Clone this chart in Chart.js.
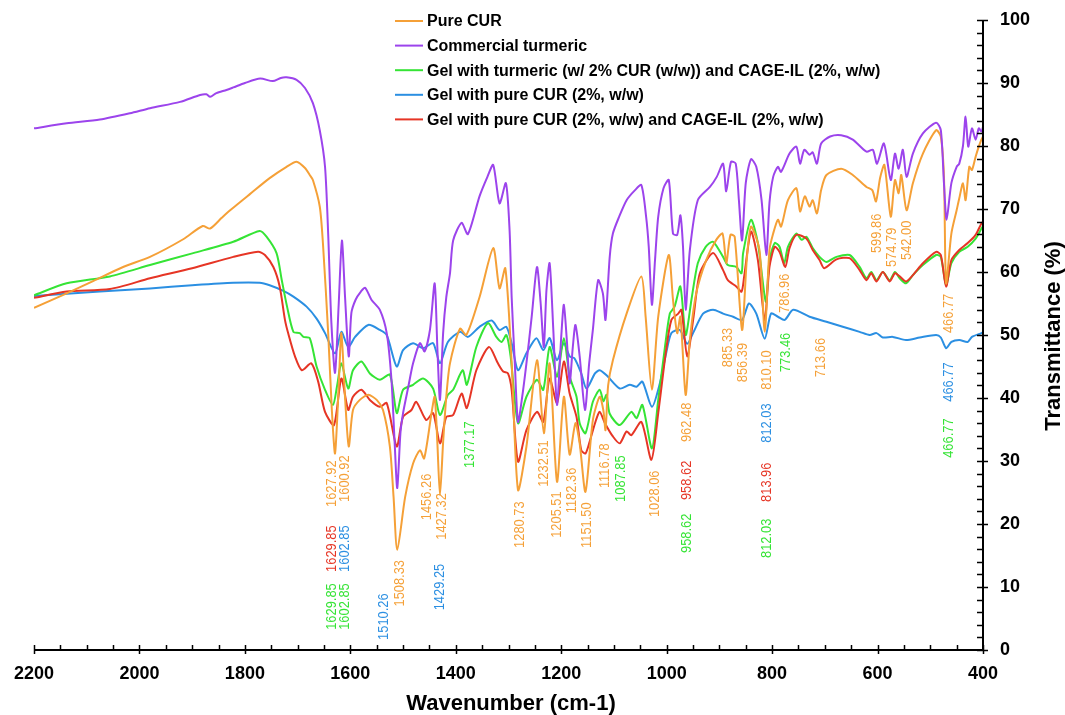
<!DOCTYPE html>
<html>
<head>
<meta charset="utf-8">
<script src="https://cdn.jsdelivr.net/npm/chart.js@4.4.0/dist/chart.umd.min.js"></script>
<style>
  html, body { margin: 0; padding: 0; background: #fff; }
  canvas { display: block; }
</style>
</head>
<body>
<canvas id="ftir" width="1065" height="715"></canvas>
<script>
// Pure CUR
const pureCurWn = [2200, 2138, 2087, 2031, 1980, 1917, 1880, 1866, 1844, 1828, 1790, 1753, 1721, 1702, 1686, 1677, 1671, 1658, 1652, 1642, 1635, 1629, 1622, 1617, 1610, 1603, 1595, 1582, 1566, 1550, 1538, 1525, 1518, 1511, 1496, 1481, 1468, 1460, 1446, 1440, 1435, 1430, 1424, 1418, 1411, 1392, 1380, 1355, 1329, 1317, 1306, 1294, 1282, 1266, 1246, 1233, 1222, 1208, 1195, 1184, 1173, 1165, 1154, 1140, 1127, 1120, 1116, 1111, 1102, 1076, 1048, 1040, 1028, 1016, 996, 988, 980, 974, 964, 956, 944, 925, 906, 894, 887, 879, 871, 857, 848, 840, 824, 814, 805, 798, 789, 783, 770, 754, 747, 738, 729, 723, 715, 707, 697, 669, 647, 621, 610, 603, 595, 587, 575, 567, 560, 555, 545, 533, 514, 489, 480, 474, 470, 460, 450, 445, 438, 433, 426, 421, 414, 408, 403, 400];
const pureCurT = [54.3, 56.6, 58.6, 60.8, 62.4, 65.2, 67.3, 66.9, 68.6, 69.8, 72.4, 74.9, 76.7, 77.5, 76.5, 75.4, 74.6, 70.4, 64.6, 50.3, 38, 31.2, 42, 50.3, 40, 32.3, 38.1, 39.7, 40.5, 39.7, 38.1, 32.3, 24.3, 15.9, 24.3, 29.6, 31.7, 30.4, 37.6, 40.2, 33, 24.6, 33, 40.2, 45.5, 51, 50, 56, 63.8, 57.4, 60.6, 45.5, 25.4, 32.3, 46, 34.4, 45.5, 26.7, 40.2, 31, 36, 32.8, 25.1, 36.5, 40.2, 38, 34.9, 42, 46, 53.4, 59.3, 53, 41.3, 52.9, 62.7, 55.6, 50.3, 52.9, 40.5, 49.2, 56.6, 61.9, 65.1, 66.1, 61.4, 65.9, 65.6, 50.8, 62, 67.2, 63.5, 50.5, 63.5, 66.1, 68.3, 67.2, 71.4, 73.3, 69.6, 72, 70.4, 71.4, 69.3, 73, 75.4, 76.4, 75.4, 73.5, 73, 71.2, 75, 77, 68.8, 74.6, 72.5, 75.4, 69.8, 74.1, 78.8, 82.5, 81.5, 75, 58.2, 66.1, 69.8, 71.7, 74.1, 71.4, 76.7, 76.2, 78.3, 79.9, 81, 81.5];

// Commercial turmeric
const turmericWn = [2200, 2138, 2075, 2018, 1980, 1923, 1885, 1873, 1866, 1854, 1835, 1822, 1800, 1771, 1747, 1732, 1721, 1702, 1686, 1671, 1658, 1648, 1642, 1636, 1629, 1622, 1616, 1610, 1603, 1598, 1590, 1580, 1572, 1560, 1544, 1531, 1522, 1516, 1511, 1505, 1500, 1490, 1481, 1468, 1459, 1449, 1440, 1435, 1430, 1424, 1418, 1411, 1405, 1389, 1377, 1355, 1340, 1329, 1317, 1305, 1298, 1294, 1288, 1282, 1274, 1266, 1256, 1246, 1239, 1233, 1228, 1222, 1215, 1208, 1200, 1195, 1189, 1184, 1178, 1173, 1165, 1155, 1147, 1140, 1130, 1121, 1116, 1108, 1102, 1090, 1076, 1060, 1048, 1039, 1034, 1028, 1022, 1016, 1006, 996, 988, 980, 974, 969, 964, 956, 941, 918, 905, 893, 887, 878, 869, 863, 857, 850, 840, 830, 820, 811, 805, 798, 789, 783, 767, 754, 747, 739, 729, 723, 715, 707, 690, 669, 647, 621, 609, 601, 588, 575, 567, 560, 552, 545, 533, 514, 489, 480, 474, 469, 460, 450, 445, 438, 433, 428, 421, 414, 408, 403, 400];
const turmericT = [82.8, 83.6, 84.2, 85.2, 86, 87, 88.1, 88.2, 87.8, 88.4, 88.9, 89.3, 90, 90.7, 90.3, 90.8, 90.9, 90.5, 89.2, 86.8, 82.5, 76.7, 66, 52, 44, 55, 65, 56, 46.6, 53.5, 55.6, 56.9, 57.5, 55.6, 54, 50.3, 42.9, 33, 25.7, 34.4, 37.6, 41.8, 45.5, 48.7, 47.4, 50.8, 58.2, 48.1, 39.7, 50.3, 56, 59.8, 65, 67.8, 66, 72, 75.1, 77, 70.9, 74.1, 66.7, 56, 45.5, 36.2, 40.2, 45.5, 52.9, 60.8, 55, 48.1, 57.1, 61.4, 50.8, 38.9, 49.7, 54.8, 48.7, 42.3, 48.1, 51.6, 46.6, 38.1, 45.5, 50.8, 58.7, 56.6, 52.4, 62.4, 66.1, 68.8, 71.4, 73, 73.8, 68.8, 64, 54.8, 62, 68.8, 73.3, 74.6, 66.1, 65.9, 69, 64, 54, 63.5, 71.4, 73.5, 75.1, 77.2, 72.8, 77.5, 77.2, 71.4, 65, 74.1, 77.9, 76.7, 71.4, 62.7, 71, 75.1, 76.7, 75.9, 78.8, 79.9, 77.2, 79.4, 78.6, 79, 77.2, 80.4, 81.5, 81.7, 81, 79.1, 79.4, 77.2, 80.4, 74.6, 78.8, 76.4, 79.4, 75.1, 78.8, 82, 83.7, 82.5, 74, 68.3, 74.1, 76.7, 77.2, 80, 84.7, 79.9, 82.8, 81, 82.8, 82.3, 83];

// Gel with turmeric (w/ 2% CUR) and CAGE-IL
const gelTurmericWn = [2200, 2138, 2056, 1980, 1898, 1822, 1772, 1759, 1740, 1730, 1720, 1708, 1696, 1689, 1677, 1664, 1648, 1633, 1625, 1617, 1604, 1595, 1579, 1563, 1544, 1525, 1512, 1500, 1481, 1462, 1443, 1430, 1415, 1405, 1387, 1379, 1361, 1339, 1323, 1313, 1304, 1296, 1282, 1266, 1246, 1234, 1222, 1208, 1195, 1184, 1171, 1165, 1154, 1140, 1127, 1120, 1114, 1108, 1089, 1067, 1057, 1046, 1028, 1016, 1004, 994, 985, 974, 964, 953, 941, 926, 912, 893, 884, 868, 858, 855, 840, 827, 812, 805, 795, 786, 777, 770, 754, 744, 735, 723, 710, 697, 678, 653, 634, 621, 612, 602, 590, 577, 567, 558, 546, 533, 514, 489, 480, 470, 460, 445, 429, 414, 403, 400];
const gelTurmericT = [56.3, 58.2, 59.3, 61.1, 63, 64.8, 66.5, 65.6, 63, 58.7, 54.5, 50.5, 50.3, 49.7, 49.5, 45, 41.3, 38.9, 42, 45.5, 41.5, 44.4, 45.8, 43.9, 42.9, 43.7, 37.6, 41.3, 42.1, 43.1, 41.5, 37.3, 40.5, 41.3, 44.4, 42.1, 48.1, 51.9, 49.7, 48.9, 50, 46.6, 36, 40.2, 42.9, 41.3, 48.1, 43.4, 49.5, 43.4, 40.2, 36, 34.4, 39.4, 41.3, 39.5, 40.5, 37.5, 35.7, 37.8, 36.8, 38.9, 32, 39.7, 47.6, 53.4, 54.5, 57.7, 50, 55.6, 61.4, 64, 64.8, 62.4, 61.1, 60.8, 59.8, 63, 68.3, 64.6, 55.3, 61.9, 64.6, 64, 61.4, 64, 66.1, 65.1, 65.6, 63.8, 62.4, 61.6, 62.4, 62.7, 60.8, 59, 60, 58.7, 60, 58.7, 60, 59, 58.2, 59.5, 61.1, 62.7, 62.4, 57.9, 61.4, 63.2, 64, 65.3, 66.9, 67.3];

// Gel with pure CUR
const gelCurWn = [2200, 2075, 1980, 1900, 1822, 1772, 1753, 1727, 1708, 1683, 1664, 1648, 1629, 1617, 1604, 1591, 1566, 1544, 1531, 1512, 1500, 1481, 1462, 1443, 1430, 1415, 1392, 1377, 1355, 1332, 1317, 1304, 1294, 1282, 1266, 1247, 1234, 1222, 1208, 1195, 1184, 1175, 1162, 1152, 1136, 1127, 1114, 1089, 1070, 1057, 1046, 1028, 1013, 1001, 991, 975, 961, 950, 931, 912, 893, 874, 857, 844, 830, 814, 802, 789, 776, 760, 729, 697, 666, 634, 615, 602, 590, 571, 546, 520, 489, 480, 470, 460, 445, 429, 421, 403, 400];
const gelCurT = [56.2, 56.9, 57.4, 57.9, 58.3, 58.3, 57.9, 57, 56.1, 54.5, 52.6, 50.3, 47.1, 50.5, 48.1, 49.7, 51.6, 50.8, 50, 45, 47.6, 48.7, 47.9, 48.7, 45.5, 48.9, 50.5, 49.7, 51.3, 52.3, 50.8, 51.3, 48.7, 44.4, 47.1, 49.5, 47.6, 49.5, 46, 48.7, 46.6, 46.3, 43.9, 41.5, 43.9, 44.4, 43.6, 41.5, 42.1, 41.8, 42.6, 38.6, 42.3, 47.1, 50.3, 50.8, 48.6, 50.3, 53.4, 54, 53.4, 52.9, 52.4, 55, 53.4, 49.4, 53.4, 52.9, 52.4, 54, 52.9, 52.1, 51.3, 50.5, 50, 50.3, 49.6, 49.7, 49.2, 49.6, 50, 49.6, 47.9, 48.9, 49.2, 48.9, 49.7, 50.3, 50.4];

// Gel with pure CUR and CAGE-IL
const gelCurIlWn = [2200, 2138, 2056, 1980, 1900, 1822, 1775, 1762, 1746, 1734, 1724, 1718, 1705, 1692, 1674, 1661, 1648, 1631, 1617, 1604, 1595, 1579, 1563, 1544, 1531, 1512, 1500, 1484, 1475, 1456, 1443, 1430, 1418, 1405, 1389, 1379, 1361, 1337, 1320, 1310, 1301, 1294, 1282, 1266, 1246, 1234, 1222, 1208, 1195, 1184, 1171, 1162, 1154, 1146, 1134, 1127, 1117, 1102, 1089, 1076, 1067, 1048, 1029, 1016, 1001, 991, 978, 972, 961, 949, 937, 912, 893, 884, 868, 858, 853, 840, 827, 814, 805, 795, 786, 775, 767, 754, 735, 723, 710, 701, 678, 653, 634, 621, 612, 602, 590, 577, 567, 558, 546, 533, 514, 489, 480, 470, 460, 445, 429, 414, 403, 400];
const gelCurIlT = [55.9, 56.9, 57.3, 59, 60.6, 62.4, 63.2, 62.7, 60.8, 57.7, 52.4, 50.3, 46.6, 44.4, 45.5, 42.6, 37.8, 35.7, 43.1, 38.1, 40.2, 41.3, 39.7, 38.6, 39.2, 32.3, 37, 38.1, 39.4, 36.5, 37.6, 32.8, 37, 37.3, 40.7, 38.4, 44.4, 48.1, 45.5, 44.2, 43.9, 41.3, 29.9, 34.9, 37.8, 36.2, 43.1, 39.2, 45.8, 40.7, 37, 31.7, 31.2, 33.1, 36.5, 37.8, 36, 33.9, 32.8, 34.7, 34.1, 36.2, 30.2, 37.6, 47.6, 52.4, 53.4, 54, 46.6, 52.9, 59.8, 63, 60.3, 58.7, 57.7, 56.9, 59.3, 66.4, 61.9, 52.4, 60.8, 64, 63.2, 60.8, 63.8, 65.9, 65.3, 63.5, 61.9, 60.6, 62, 62.2, 60.3, 58.7, 59.8, 58.5, 60, 58.5, 59.8, 59.3, 58.5, 59.5, 61.4, 63.2, 62.7, 57.7, 61.9, 63.5, 64.6, 65.9, 67.7, 68];

const seriesLabels = [
  "Pure CUR",
  "Commercial turmeric",
  "Gel with turmeric (w/ 2% CUR (w/w)) and CAGE-IL (2%, w/w)",
  "Gel with pure CUR (2%, w/w)",
  "Gel with pure CUR (2%, w/w) and CAGE-IL (2%, w/w)"
];
const seriesColors = ["#f5a037", "#9c44ec", "#35e435", "#2b8fe2", "#e63525"];

// peak labels: text, series index, wavenumber / transmittance of the text's lower end
const peakText = ["1627.92", "1600.92", "1629.85", "1602.85", "1629.85", "1602.85", "1510.26", "1508.33", "1456.26", "1427.32", "1429.25", "1377.17", "1280.73", "1232.51", "1205.51", "1182.36", "1151.50", "1116.78", "1087.85", "1028.06", "962.48", "958.62", "958.62", "885.33", "856.39", "810.10", "812.03", "813.96", "812.03", "786.96", "773.46", "713.66", "599.86", "574.79", "542.00", "466.77", "466.77", "466.77"];
const peakSeries = [0, 0, 4, 3, 2, 2, 3, 0, 0, 0, 3, 2, 0, 0, 0, 0, 0, 0, 2, 0, 0, 4, 2, 0, 0, 0, 3, 4, 2, 0, 2, 0, 0, 0, 0, 0, 3, 2];
const peakWn = [1635, 1609.5, 1635, 1609.5, 1635, 1609.5, 1536.5, 1506, 1455, 1426.5, 1430, 1373.5, 1278.7, 1233, 1207.6, 1180, 1151.7, 1117.5, 1087, 1022.7, 962, 962, 962, 884.4, 856, 810.4, 810.4, 810.4, 810.4, 776.3, 774.4, 708, 601, 573.5, 544, 465.4, 465.4, 465.4];
const peakT = [22.7, 23.5, 12.4, 12.4, 3.2, 3.2, 1.6, 6.9, 20.6, 17.5, 6.3, 28.9, 16.2, 25.9, 17.8, 21.7, 16.2, 25.7, 23.5, 21.1, 33, 23.8, 15.4, 44.9, 42.5, 41.3, 32.9, 23.5, 14.6, 53.5, 44.1, 43.3, 63, 60.8, 61.9, 50.3, 39.4, 30.5];

const FONT = "'Liberation Sans', Arial, Helvetica, sans-serif";

function toPoints(wn, t) {
  return wn.map((w, i) => ({ x: w, y: t[i] }));
}

const series = [
  [pureCurWn, pureCurT],
  [turmericWn, turmericT],
  [gelTurmericWn, gelTurmericT],
  [gelCurWn, gelCurT],
  [gelCurIlWn, gelCurIlT]
];

// draw order: blue, green, red, orange, purple on top
const drawOrder = [3, 2, 4, 0, 1];

const datasets = series.map(([wn, t], i) => ({
  label: seriesLabels[i],
  data: toPoints(wn, t),
  borderColor: seriesColors[i],
  backgroundColor: seriesColors[i],
  borderWidth: 2,
  pointRadius: 0,
  showLine: true,
  tension: 0.25,
  order: 10 - drawOrder.indexOf(i)
}));

// no extra room for tick label overhang, chart area follows layout padding
function fixScale(s, size) {
  if (s.isHorizontal()) s.height = size; else s.width = size;
  s.paddingTop = 0;
  s.paddingBottom = 0;
  s.paddingLeft = 0;
  s.paddingRight = 0;
}

const decorations = {
  id: "decorations",
  afterDraw(chart) {
    const { ctx, chartArea: a, scales } = chart;
    const xs = scales.x, ys = scales.y;
    ctx.save();

    // axes
    ctx.strokeStyle = "#000";
    ctx.lineWidth = 2;
    ctx.beginPath();
    ctx.moveTo(a.left, a.bottom);
    ctx.lineTo(a.right + 1, a.bottom);
    ctx.moveTo(a.right, a.bottom + 1);
    ctx.lineTo(a.right, a.top);
    ctx.stroke();

    ctx.lineWidth = 1.5;
    ctx.beginPath();
    for (let w = 400; w <= 2200; w += 50) {
      const px = Math.round(xs.getPixelForValue(w)) + 0.5;
      const major = w % 200 === 0;
      ctx.moveTo(px, a.bottom - 5);
      ctx.lineTo(px, a.bottom + (major ? 4 : 0));
    }
    for (let t = 0; t <= 100; t += 2) {
      const py = Math.round(ys.getPixelForValue(t)) + 0.5;
      const major = t % 10 === 0;
      ctx.moveTo(a.right - 6, py);
      ctx.lineTo(a.right + (major ? 5 : 0), py);
    }
    ctx.stroke();

    // axis titles
    ctx.fillStyle = "#000";
    ctx.font = `bold 22px ${FONT}`;
    ctx.textAlign = "center";
    ctx.textBaseline = "middle";
    ctx.fillText("Wavenumber (cm-1)", 511, 704);
    ctx.save();
    ctx.translate(1054, 336);
    ctx.rotate(-Math.PI / 2);
    ctx.fillText("Transmittance (%)", 0, 0);
    ctx.restore();

    // legend
    ctx.font = `bold 16px ${FONT}`;
    ctx.textAlign = "left";
    seriesLabels.forEach((label, i) => {
      const y = 21 + i * 24.6;
      ctx.strokeStyle = seriesColors[i];
      ctx.lineWidth = 2;
      ctx.beginPath();
      ctx.moveTo(395, y);
      ctx.lineTo(423, y);
      ctx.stroke();
      ctx.fillStyle = "#000";
      ctx.fillText(label, 427, y + 1);
    });

    // peak labels
    ctx.font = `14px ${FONT}`;
    ctx.textBaseline = "middle";
    peakText.forEach((text, i) => {
      const px = xs.getPixelForValue(peakWn[i]);
      const py = ys.getPixelForValue(peakT[i]);
      ctx.save();
      ctx.translate(px, py);
      ctx.rotate(-Math.PI / 2);
      ctx.scale(0.92, 1.05);
      ctx.fillStyle = seriesColors[peakSeries[i]];
      ctx.fillText(text, 0, 0);
      ctx.restore();
    });

    ctx.restore();
  }
};

new Chart(document.getElementById("ftir"), {
  type: "scatter",
  data: { datasets },
  options: {
    responsive: false,
    animation: false,
    devicePixelRatio: 1,
    layout: { padding: { left: 34, top: 20, right: 0, bottom: 0 } },
    plugins: { legend: { display: false }, tooltip: { enabled: false } },
    scales: {
      x: {
        type: "linear",
        reverse: true,
        min: 400,
        max: 2200,
        position: "bottom",
        grid: { display: false, drawTicks: false },
        border: { display: false },
        ticks: {
          stepSize: 200,
          padding: 13,
          maxRotation: 0,
          color: "#000",
          font: { family: FONT, size: 18, weight: "bold" },
          callback: (v) => String(v)
        },
        afterFit: (s) => fixScale(s, 65)
      },
      y: {
        type: "linear",
        position: "right",
        min: 0,
        max: 100,
        grid: { display: false, drawTicks: false },
        border: { display: false },
        ticks: {
          stepSize: 10,
          padding: 17,
          color: "#000",
          font: { family: FONT, size: 18, weight: "bold" },
          callback: (v) => String(v)
        },
        afterFit: (s) => fixScale(s, 82)
      }
    }
  },
  plugins: [decorations]
});
</script>
</body>
</html>
